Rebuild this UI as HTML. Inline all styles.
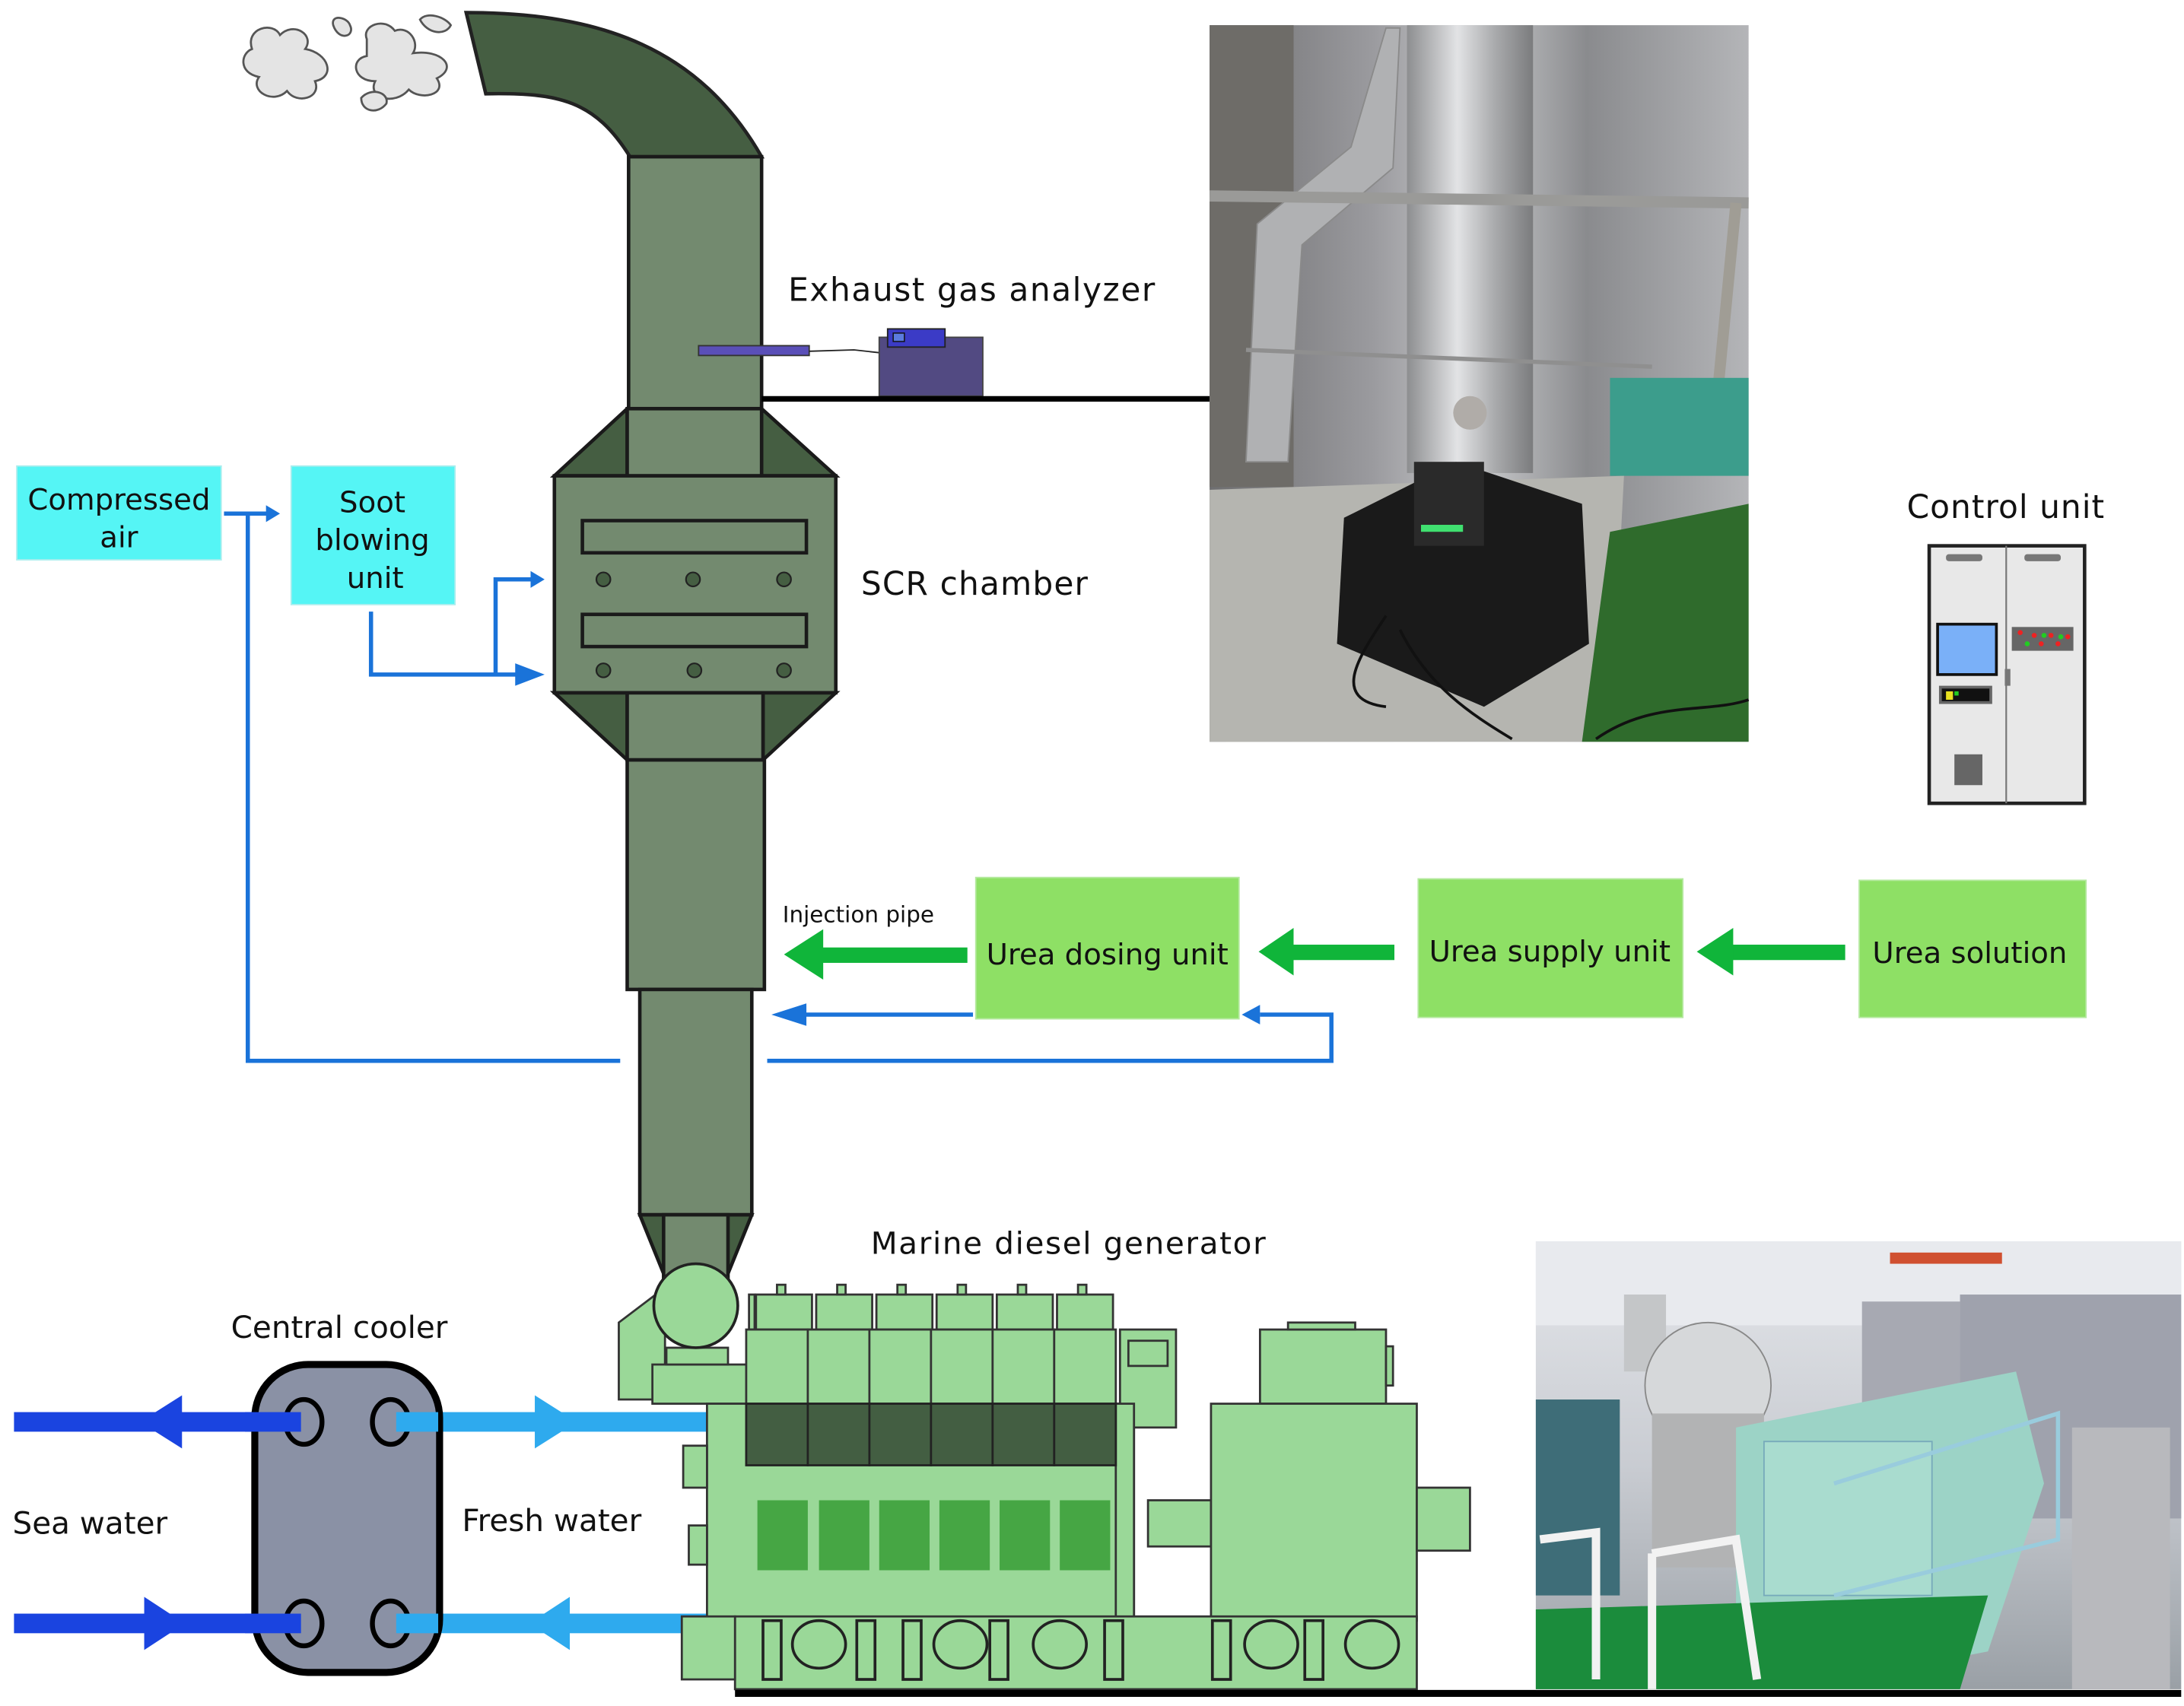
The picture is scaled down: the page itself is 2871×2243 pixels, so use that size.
<!DOCTYPE html>
<html><head><meta charset="utf-8"><style>
html,body{margin:0;padding:0;background:#fff}
svg{display:block}
text{font-family:"DejaVu Sans","Liberation Sans",sans-serif;fill:#111}
</style></head><body>
<svg width="2871" height="2243" viewBox="0 0 1560 1219" preserveAspectRatio="none" xmlns="http://www.w3.org/2000/svg">
<defs>
<linearGradient id="met" x1="0" x2="1" y1="0" y2="0">
<stop offset="0" stop-color="#6e6e70"/><stop offset="0.3" stop-color="#9a9a9e"/><stop offset="0.5" stop-color="#c9cacc"/><stop offset="0.7" stop-color="#8a8b8e"/><stop offset="1" stop-color="#b4b5b8"/></linearGradient>
<linearGradient id="cyl" x1="0" x2="1"><stop offset="0" stop-color="#8d8e90"/><stop offset="0.4" stop-color="#e2e3e5"/><stop offset="0.7" stop-color="#a9aaac"/><stop offset="1" stop-color="#7b7c7e"/></linearGradient>
<linearGradient id="room" x1="0" x2="0" y1="0" y2="1"><stop offset="0" stop-color="#e4e6ea"/><stop offset="0.5" stop-color="#c9ccd2"/><stop offset="1" stop-color="#9aa0a6"/></linearGradient>
</defs>

<!-- clouds -->
<g fill="#e4e4e4" stroke="#555" stroke-width="1.5">
<path d="M180,35 C175,20 195,15 200,25 C210,15 225,25 218,35 C235,38 240,55 225,58 C230,70 212,75 205,65 C195,75 178,65 185,55 C170,52 172,38 180,35Z"/>
<path d="M262,28 C258,18 275,12 282,22 C292,18 300,30 295,38 C315,35 328,48 312,56 C320,68 300,72 292,64 C282,76 262,70 268,58 C252,58 250,42 262,40 Z"/>
<path d="M238,18 C236,10 248,12 250,18 C254,26 242,30 238,18Z"/>
<path d="M300,14 C305,8 318,12 322,18 C318,26 305,24 300,14Z"/>
<path d="M258,70 C265,62 278,66 276,74 C270,82 258,80 258,70Z"/>
</g>

<!-- stack top elbow -->
<path d="M333,9 C430,9 500,35 544,112 L450,112 C425,72 400,66 347,67 Z" fill="#455e42" stroke="#222" stroke-width="2.5"/>
<g fill="#738a6f" stroke="#1a1a1a" stroke-width="2.5">
<rect x="449" y="112" width="95" height="180"/>
<polygon points="448,292 396,340 448,340" fill="#455e42"/>
<polygon points="544,292 597,340 544,340" fill="#455e42"/>
<rect x="448" y="292" width="96" height="48"/>
<polygon points="396,495 448,543 448,495" fill="#455e42"/>
<polygon points="597,495 545,543 545,495" fill="#455e42"/>
<rect x="448" y="495" width="97" height="48"/>
<rect x="396" y="340" width="201" height="155"/>
<rect x="416" y="372" width="160" height="23"/>
<rect x="416" y="439" width="160" height="23"/>
<rect x="448" y="543" width="98" height="164"/>
<rect x="457" y="707" width="80" height="161"/>
<polygon points="457,868 537,868 520,910 474,910" fill="#455e42"/>
<rect x="474" y="868" width="46" height="50"/>
</g>
<g fill="#455e42" stroke="#222" stroke-width="1.2">
<circle cx="431" cy="414" r="5"/><circle cx="495" cy="414" r="5"/><circle cx="560" cy="414" r="5"/>
<circle cx="431" cy="479" r="5"/><circle cx="496" cy="479" r="5"/><circle cx="560" cy="479" r="5"/>
</g>

<!-- analyzer -->
<rect x="499" y="247" width="79" height="7" fill="#5a4fb8" stroke="#333" stroke-width="1"/>
<path d="M578,251 L610,250 L628,252" fill="none" stroke="#222" stroke-width="1"/>
<rect x="628" y="241" width="74" height="42" fill="#524a82" stroke="#444" stroke-width="1"/>
<rect x="634" y="235" width="41" height="13" fill="#3b3bc6" stroke="#222" stroke-width="1"/>
<rect x="638" y="238" width="8" height="6" fill="#5b7bdf" stroke="#111" stroke-width="0.8"/>
<line x1="544" y1="285" x2="864" y2="285" stroke="#000" stroke-width="4"/>
<text x="563" y="215" font-size="23" textLength="262">Exhaust gas analyzer</text>
<text x="615" y="425" font-size="23" textLength="162">SCR chamber</text>

<!-- photo 1 -->
<g>
<rect x="864" y="18" width="385" height="512" fill="url(#met)"/>
<rect x="864" y="18" width="60" height="330" fill="#6e6c68"/>
<rect x="1005" y="18" width="90" height="320" fill="url(#cyl)"/>
<path d="M990,20 L1000,20 L995,120 L930,175 L920,330 L890,330 L898,160 L965,105 Z" fill="#b0b1b3" stroke="#8a8a8a"/>
<line x1="864" y1="140" x2="1249" y2="145" stroke="#9a9a98" stroke-width="8"/>
<line x1="890" y1="250" x2="1180" y2="262" stroke="#8f8f8f" stroke-width="3"/>
<path d="M1240,145 L1225,300 L1200,320 L1160,320" fill="none" stroke="#a09d95" stroke-width="8"/>
<rect x="1150" y="270" width="99" height="70" fill="#3c9d8c"/>
<polygon points="864,350 1160,340 1150,530 864,530" fill="#b5b5b0"/>
<polygon points="1150,380 1249,360 1249,530 1130,530" fill="#2f6b2c"/>
<polygon points="960,370 1040,330 1130,360 1135,460 1060,505 955,460" fill="#1a1a1a"/>
<rect x="1010" y="330" width="50" height="60" fill="#2a2a2a"/>
<rect x="1015" y="375" width="30" height="5" fill="#40e070"/>
<circle cx="1050" cy="295" r="12" fill="#b0aca8"/>
<path d="M990,440 C970,470 950,500 990,505 M1000,450 C1020,490 1050,510 1080,528" fill="none" stroke="#111" stroke-width="2"/>
<path d="M1140,528 C1180,500 1220,510 1249,500" fill="none" stroke="#111" stroke-width="2"/>
</g>

<!-- control unit -->
<text x="1362" y="370" font-size="23" textLength="141">Control unit</text>
<rect x="1378" y="390" width="111" height="184" fill="#e8e8e8" stroke="#222" stroke-width="2.5"/>
<line x1="1433" y1="390" x2="1433" y2="574" stroke="#777" stroke-width="1.2"/>
<rect x="1390" y="396" width="26" height="5" rx="2" fill="#777"/>
<rect x="1446" y="396" width="26" height="5" rx="2" fill="#777"/>
<rect x="1384" y="446" width="42" height="36" fill="#7ab0f8" stroke="#111" stroke-width="2"/>
<rect x="1386" y="491" width="36" height="11" fill="#111" stroke="#666" stroke-width="2"/>
<rect x="1390" y="494" width="5" height="6" fill="#e8e020"/><rect x="1396" y="494" width="3" height="3" fill="#2c2"/>
<rect x="1437" y="448" width="44" height="17" fill="#666"/>
<g fill="#e22"><circle cx="1443" cy="452" r="1.8"/><circle cx="1453" cy="454" r="1.8"/><circle cx="1465" cy="454" r="1.8"/><circle cx="1477" cy="455" r="1.8"/><circle cx="1458" cy="460" r="1.8"/><circle cx="1470" cy="460" r="1.8"/></g>
<g fill="#2c2"><circle cx="1448" cy="460" r="1.8"/><circle cx="1460" cy="454" r="1.8"/><circle cx="1472" cy="455" r="1.8"/></g>
<rect x="1432" y="478" width="4" height="12" fill="#777"/>
<rect x="1396" y="539" width="20" height="22" fill="#666"/>

<!-- cyan boxes -->
<rect x="12" y="333" width="146" height="67" fill="#55f5f5" stroke="#aee" stroke-width="1"/>
<text x="85" y="364" font-size="21" text-anchor="middle">Compressed</text>
<text x="85" y="391" font-size="21" text-anchor="middle">air</text>
<rect x="208" y="333" width="117" height="99" fill="#55f5f5" stroke="#aee" stroke-width="1"/>
<text x="266" y="366" font-size="21" text-anchor="middle">Soot</text>
<text x="266" y="393" font-size="21" text-anchor="middle">blowing</text>
<text x="268" y="420" font-size="21" text-anchor="middle">unit</text>

<!-- blue lines -->
<g fill="none" stroke="#1a73d9" stroke-width="3">
<path d="M160,367 L193,367"/>
<path d="M177,367 L177,758 L443,758"/>
<path d="M265,437 L265,482 L370,482"/>
<path d="M354,482 L354,414 L380,414"/>
<path d="M548,758 L951,758 L951,725 L900,725"/>
<path d="M695,725 L570,725"/>
</g>
<g fill="#1a73d9">
<polygon points="200,367 190,361 190,373"/>
<polygon points="389,482 368,474 368,490"/>
<polygon points="389,414 379,408 379,420"/>
<polygon points="887,725 900,718 900,732"/>
<polygon points="551,725 576,717 576,733"/>
</g>

<!-- urea boxes -->
<g fill="#8ee065" stroke="#b5e9a0" stroke-width="1">
<rect x="697" y="627" width="188" height="101"/>
<rect x="1013" y="628" width="189" height="99"/>
<rect x="1328" y="629" width="162" height="98"/>
</g>
<text x="791" y="689" font-size="21" text-anchor="middle">Urea dosing unit</text>
<text x="1107" y="687" font-size="21" text-anchor="middle">Urea supply unit</text>
<text x="1407" y="688" font-size="21" text-anchor="middle">Urea solution</text>
<text x="559" y="659" font-size="16">Injection pipe</text>
<g fill="#10b53a">
<rect x="585" y="677" width="106" height="11"/><polygon points="560,682 588,664 588,700"/>
<rect x="922" y="675" width="74" height="11"/><polygon points="899,680 924,663 924,697"/>
<rect x="1236" y="675" width="82" height="11"/><polygon points="1212,680 1238,663 1238,697"/>
</g>

<!-- central cooler -->
<text x="165" y="956" font-size="22">Central cooler</text>
<text x="9" y="1096" font-size="22">Sea water</text>
<text x="330" y="1094" font-size="22">Fresh water</text>
<g fill="#1a44e0">
<rect x="10" y="1009" width="205" height="14"/><polygon points="100,1016 130,997 130,1035"/>
<rect x="10" y="1153" width="205" height="14"/><polygon points="132,1160 103,1141 103,1179"/>
</g>
<g fill="#2eaaee">
<rect x="283" y="1009" width="222" height="14"/><polygon points="412,1016 382,997 382,1035"/>
<rect x="283" y="1153" width="222" height="14"/><polygon points="378,1160 407,1141 407,1179"/>
</g>
<rect x="182" y="975" width="132" height="220" rx="38" fill="#8a91a5" stroke="#000" stroke-width="5"/>
<g fill="none" stroke="#000" stroke-width="3.5">
<ellipse cx="217" cy="1016" rx="13" ry="16"/><ellipse cx="279" cy="1016" rx="13" ry="16"/>
<ellipse cx="217" cy="1160" rx="13" ry="16"/><ellipse cx="279" cy="1160" rx="13" ry="16"/>
</g>
<g fill="#1a44e0"><rect x="175" y="1009" width="40" height="14"/><rect x="175" y="1153" width="40" height="14"/></g>
<g fill="#2eaaee"><rect x="283" y="1009" width="30" height="14"/><rect x="283" y="1153" width="30" height="14"/></g>

<!-- engine -->
<text x="622" y="896" font-size="22" textLength="282">Marine diesel generator</text>
<g fill="#9ad898" stroke="#333" stroke-width="1.5">
<polygon points="442,945 475,920 475,1000 442,1000"/>
<rect x="466" y="975" width="70" height="28"/>
<rect x="476" y="963" width="44" height="12"/>
<rect x="535" y="925" width="4" height="25"/>
<rect x="540" y="925" width="40" height="25"/><rect x="583" y="925" width="40" height="25"/><rect x="626" y="925" width="40" height="25"/>
<rect x="669" y="925" width="40" height="25"/><rect x="712" y="925" width="40" height="25"/><rect x="755" y="925" width="40" height="25"/>
<rect x="555" y="918" width="6" height="7"/><rect x="598" y="918" width="6" height="7"/><rect x="641" y="918" width="6" height="7"/>
<rect x="684" y="918" width="6" height="7"/><rect x="727" y="918" width="6" height="7"/><rect x="770" y="918" width="6" height="7"/>
<rect x="505" y="1003" width="305" height="155"/>
<rect x="488" y="1033" width="17" height="30"/><rect x="492" y="1090" width="13" height="28"/>
<rect x="533" y="950" width="44" height="53"/><rect x="577" y="950" width="44" height="53"/><rect x="621" y="950" width="44" height="53"/>
<rect x="665" y="950" width="44" height="53"/><rect x="709" y="950" width="44" height="53"/><rect x="753" y="950" width="44" height="53"/>
<rect x="800" y="950" width="40" height="70"/>
<rect x="806" y="958" width="28" height="18"/>
<rect x="797" y="1003" width="13" height="155"/>
<rect x="820" y="1072" width="45" height="33"/>
<rect x="900" y="950" width="90" height="53"/>
<rect x="920" y="945" width="48" height="5"/>
<rect x="990" y="962" width="5" height="28"/>
<rect x="865" y="1003" width="147" height="155"/>
<rect x="1012" y="1063" width="38" height="45"/>
<rect x="525" y="1155" width="487" height="52"/>
<rect x="487" y="1155" width="38" height="45"/>
</g>
<circle cx="497" cy="933" r="30" fill="#9ad898" stroke="#222" stroke-width="2"/>
<g fill="#435e42" stroke="#222" stroke-width="1.5">
<rect x="533" y="1003" width="44" height="44"/><rect x="577" y="1003" width="44" height="44"/><rect x="621" y="1003" width="44" height="44"/>
<rect x="665" y="1003" width="44" height="44"/><rect x="709" y="1003" width="44" height="44"/><rect x="753" y="1003" width="44" height="44"/>
</g>
<g fill="#46a644">
<rect x="541" y="1072" width="36" height="50"/><rect x="585" y="1072" width="36" height="50"/><rect x="628" y="1072" width="36" height="50"/>
<rect x="671" y="1072" width="36" height="50"/><rect x="714" y="1072" width="36" height="50"/><rect x="757" y="1072" width="36" height="50"/>
</g>
<g fill="#9ad898" stroke="#222" stroke-width="2">
<rect x="545" y="1158" width="13" height="42"/><rect x="612" y="1158" width="13" height="42"/><rect x="645" y="1158" width="13" height="42"/>
<rect x="707" y="1158" width="13" height="42"/><rect x="789" y="1158" width="13" height="42"/><rect x="866" y="1158" width="13" height="42"/><rect x="932" y="1158" width="13" height="42"/>
<ellipse cx="585" cy="1175" rx="19" ry="17"/><ellipse cx="686" cy="1175" rx="19" ry="17"/><ellipse cx="757" cy="1175" rx="19" ry="17"/>
<ellipse cx="908" cy="1175" rx="19" ry="17"/><ellipse cx="980" cy="1175" rx="19" ry="17"/>
</g>
<line x1="525" y1="1210" x2="1558" y2="1210" stroke="#000" stroke-width="5"/>

<!-- photo 2 -->
<g>
<rect x="1097" y="887" width="461" height="320" fill="url(#room)"/>
<rect x="1097" y="887" width="461" height="60" fill="#e8eaee"/>
<rect x="1330" y="930" width="70" height="200" fill="#a7a9b2"/>
<rect x="1400" y="925" width="158" height="160" fill="#9fa2ad"/>
<rect x="1097" y="1000" width="60" height="140" fill="#3e6d78"/>
<rect x="1160" y="925" width="30" height="55" fill="#c4c6c8"/>
<ellipse cx="1220" cy="990" rx="45" ry="45" fill="#d6d8da" stroke="#888"/>
<rect x="1180" y="1010" width="80" height="110" fill="#b2b3b4"/>
<polygon points="1240,1020 1440,980 1460,1060 1420,1180 1280,1207 1240,1207" fill="#9cd3c6"/>
<rect x="1260" y="1030" width="120" height="110" fill="#a9dccf" stroke="#7ab" stroke-width="1"/>
<polygon points="1097,1150 1420,1140 1400,1207 1097,1207" fill="#1b8c3c"/>
<rect x="1480" y="1020" width="70" height="187" fill="#b8b9bd"/>
<path d="M1100,1100 L1140,1095 L1140,1200 M1180,1110 L1240,1100 L1255,1200 M1180,1110 L1180,1207" fill="none" stroke="#f2f2f2" stroke-width="6"/>
<path d="M1310,1060 L1470,1010 L1470,1100 L1310,1140" fill="none" stroke="#9cd" stroke-width="3"/>
<rect x="1350" y="895" width="80" height="8" fill="#d05030"/>
</g>
</svg>
</body></html>
